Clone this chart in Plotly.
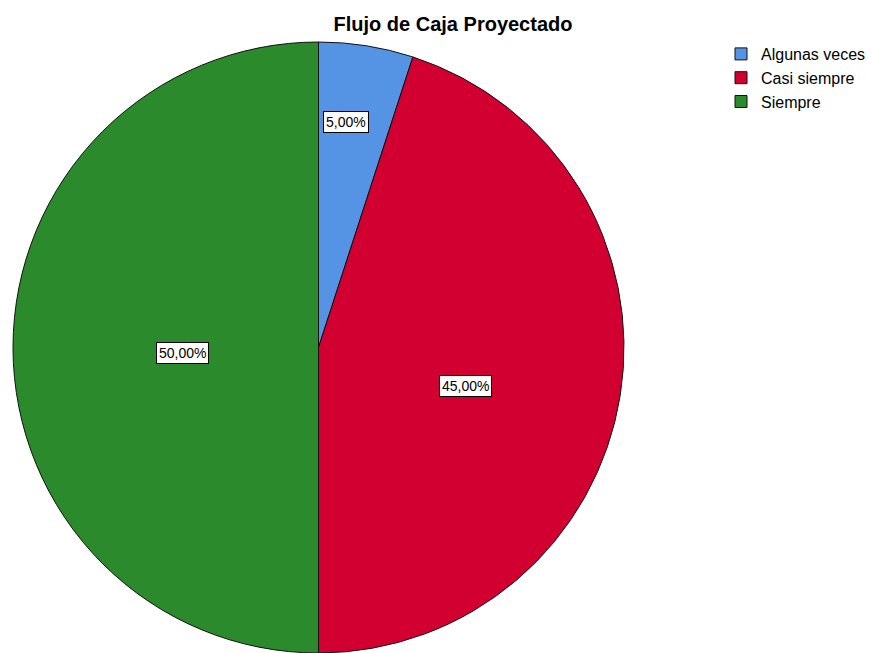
import math
import plotly.graph_objects as go

# Distribution of answers for "Flujo de Caja Proyectado"
categories = ["Algunas veces", "Casi siempre", "Siempre"]
percentages = [5.0, 45.0, 50.0]
slice_colors = ["#5594E4", "#D20030", "#2B8A2B"]

W, H = 875, 653
FONT = "Liberation Sans, Arial, sans-serif"
# pie area in pixels (left, right, top, bottom)
px_left, px_right, px_top, px_bottom = 11, 626, 42, 653

fig = go.Figure(
    go.Pie(
        labels=categories,
        values=percentages,
        sort=False,
        direction="clockwise",
        rotation=0,
        marker=dict(colors=slice_colors, line=dict(color="#111111", width=1)),
        textinfo="none",
        hoverinfo="label+percent",
        domain=dict(x=[px_left / W, px_right / W], y=[0, 1 - px_top / H]),
    )
)

# Boxed value labels placed near each slice's mid angle
cx = (px_left + px_right) / 2
cy = px_top + (px_bottom - px_top) / 2
radius = min(px_right - px_left, px_bottom - px_top) / 2
label_radius = [0.744, 0.496, 0.444]   # fraction of the pie radius
label_turn = [-2.0, 5.7, -2.3]          # degrees away from the mid angle
total = sum(percentages)
start = 0.0
for val, rf, turn in zip(percentages, label_radius, label_turn):
    mid = (start + val / 2) / total * 2 * math.pi + math.radians(turn)
    start += val
    x = cx + rf * radius * math.sin(mid)
    y = cy - rf * radius * math.cos(mid)
    fig.add_annotation(
        x=x / W, y=1 - y / H, xref="paper", yref="paper",
        xanchor="center", yanchor="middle",
        text=f"{val:.2f}%".replace(".", ","),
        showarrow=False,
        font=dict(family=FONT, size=14, color="#000000"),
        bgcolor="#FFFFFF", bordercolor="#000000", borderwidth=1, borderpad=2,
    )

fig.update_layout(
    width=W, height=H,
    margin=dict(l=0, r=0, t=0, b=0),
    paper_bgcolor="#FFFFFF",
    plot_bgcolor="#FFFFFF",
    title=dict(
        text="<b>Flujo de Caja Proyectado</b>",
        x=453 / W, y=1 - 24 / H, xanchor="center", yanchor="middle",
        font=dict(family=FONT, size=20, color="#000000"),
    ),
    legend=dict(
        x=721 / W, y=1 - 37 / H, xanchor="left", yanchor="top",
        font=dict(family=FONT, size=16, color="#000000"),
        tracegroupgap=0,
        bgcolor="rgba(0,0,0,0)",
    ),
    showlegend=True,
)

fig.write_html("out.html")
